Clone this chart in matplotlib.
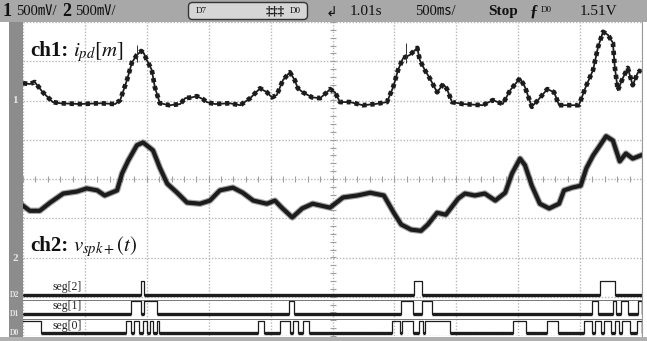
import matplotlib
matplotlib.use("Agg")
import matplotlib.pyplot as plt
import matplotlib.transforms as mtransforms
from matplotlib.patches import FancyBboxPatch
import numpy as np

plt.rcParams["font.family"] = ["Liberation Serif", "Noto Sans CJK JP", "DejaVu Sans"]
plt.rcParams["mathtext.fontset"] = "stix"

# screen units: x in time divisions (500 ms/div), y in vertical divisions (0 = centre)
ch1_t = [0.00, 0.11, 0.19, 0.32, 0.48, 0.60, 0.92, 1.24, 1.49, 1.57, 1.68, 1.76, 1.84, 1.91,
         1.95, 2.00, 2.08, 2.13, 2.21, 2.37, 2.54, 2.62, 2.73, 2.81, 2.91, 2.97, 3.10, 3.34,
         3.51, 3.67, 3.83, 3.94, 4.02, 4.10, 4.20, 4.31, 4.39, 4.44, 4.52, 4.67, 4.80, 4.91,
         4.96, 5.04, 5.12, 5.28, 5.49, 5.69, 5.88, 5.98, 6.06, 6.14, 6.25, 6.37, 6.41, 6.49,
         6.57, 6.69, 6.79, 6.85, 6.93, 7.11, 7.43, 7.59, 7.75, 7.87, 8.03, 8.11, 8.22, 8.32,
         8.47, 8.58, 8.66, 8.98, 9.09, 9.21, 9.29, 9.37, 9.45, 9.53, 9.56, 9.61, 9.69, 9.77,
         9.85, 9.93, 9.98]
ch1_v = [2.44, 2.42, 2.47, 2.21, 1.96, 1.93, 1.91, 1.93, 1.91, 2.01, 2.52, 2.97, 3.16, 3.26,
         3.21, 3.03, 2.78, 2.34, 1.93, 1.88, 1.91, 2.06, 2.08, 2.11, 2.03, 1.96, 1.91, 1.93,
         1.88, 2.06, 2.31, 2.21, 2.08, 2.14, 2.52, 2.72, 2.52, 2.31, 2.21, 2.08, 2.06, 2.21,
         2.29, 2.21, 1.96, 1.96, 1.88, 1.91, 1.96, 2.34, 2.78, 3.08, 3.16, 3.34, 3.03, 2.78,
         2.57, 2.21, 2.42, 2.29, 1.96, 1.91, 1.88, 2.01, 1.91, 2.26, 2.57, 2.34, 1.84, 2.01,
         2.29, 2.21, 1.88, 1.88, 2.34, 2.78, 3.36, 3.75, 3.67, 3.47, 2.86, 2.26, 2.57, 2.83,
         2.39, 2.70, 2.78]
spike_t = [1.84, 6.19]
spike_top = [3.42, 3.47]
spike_bot = [2.98, 2.95]

ch2_t = [0.00, 0.11, 0.27, 0.44, 0.65, 0.87, 1.03, 1.20, 1.32, 1.52, 1.60, 1.70, 1.84, 1.94,
         2.10, 2.21, 2.33, 2.49, 2.65, 2.86, 3.02, 3.18, 3.39, 3.55, 3.72, 3.94, 4.07, 4.18,
         4.35, 4.51, 4.68, 4.96, 5.17, 5.40, 5.61, 5.83, 5.99, 6.11, 6.27, 6.43, 6.54, 6.69,
         6.83, 7.03, 7.14, 7.30, 7.46, 7.63, 7.79, 7.90, 8.03, 8.11, 8.22, 8.35, 8.50, 8.66,
         8.74, 8.87, 9.01, 9.10, 9.21, 9.31, 9.42, 9.53, 9.64, 9.74, 9.85, 9.98]
ch2_v = [-0.68, -0.81, -0.81, -0.60, -0.37, -0.32, -0.24, -0.29, -0.42, -0.29, 0.14, 0.47,
         0.86, 0.93, 0.73, 0.29, -0.12, -0.35, -0.60, -0.63, -0.55, -0.29, -0.22, -0.35,
         -0.55, -0.63, -0.55, -0.73, -0.98, -0.75, -0.63, -0.73, -0.47, -0.42, -0.35, -0.42,
         -0.86, -1.16, -1.29, -1.32, -1.16, -0.86, -0.91, -0.50, -0.37, -0.42, -0.37, -0.55,
         -0.35, 0.14, 0.52, 0.35, -0.17, -0.63, -0.75, -0.63, -0.29, -0.22, -0.17, 0.27,
         0.60, 0.83, 1.09, 0.98, 0.45, 0.65, 0.52, 0.60]

# digital channels: intervals where the line is high
seg2_high = [(1.91, 1.95), (6.32, 6.45), (9.32, 9.56)]
seg1_high = [(1.74, 1.91), (1.95, 2.16), (4.30, 4.38), (6.11, 6.30), (6.45, 6.61),
             (9.19, 9.29), (9.53, 9.58), (9.66, 9.77), (9.93, 10.0)]
seg0_high = [(0.0, 0.29), (1.66, 1.74), (1.79, 1.87), (1.94, 2.00), (2.05, 2.10),
             (2.16, 2.20), (3.80, 3.89), (4.15, 4.31), (4.36, 4.44), (4.52, 4.62),
             (5.96, 6.09), (6.12, 6.30), (6.40, 6.46), (6.49, 6.90), (7.92, 8.13),
             (8.47, 8.64), (9.06, 9.19), (9.24, 9.34), (9.39, 9.50), (9.56, 9.63),
             (9.68, 9.81), (9.92, 10.0)]
seg_levels = {"seg[2]": (-2.95, -2.60), "seg[1]": (-3.44, -3.11), "seg[0]": (-3.93, -3.62)}

W, H = 647, 341
fig = plt.figure(figsize=(W / 100, H / 100), dpi=100)
fig.patch.set_facecolor("white")

# header bar
hd = fig.add_axes([0, 1 - 22 / H, 1, 22 / H])
hd.set_facecolor("#a8a8a8")
hd.set_xlim(0, W)
hd.set_ylim(22, 0)
hd.set_xticks([])
hd.set_yticks([])
for sp in hd.spines.values():
    sp.set_visible(False)
tc = "#111111"
hd.text(3, 11.5, "1", fontsize=13, fontweight="bold", color=tc, va="center")
hd.text(16, 11.5, "500㎷/", fontsize=10.5, color=tc, va="center")
hd.text(62, 11.5, "2", fontsize=13, fontweight="bold", color=tc, va="center")
hd.text(75, 11.5, "500㎷/", fontsize=10.5, color=tc, va="center")
hd.add_patch(FancyBboxPatch((190, 4), 116, 14, boxstyle="round,pad=1.5,rounding_size=4",
                            facecolor="#d6d6d6", edgecolor="#333333", lw=1))
hd.text(196, 11, "D7", fontsize=6.5, color=tc, va="center")
hd.text(266, 11.5, "‡‡‡", fontsize=9, color=tc, va="center", fontweight="bold")
hd.text(290, 11, "D0", fontsize=6.5, color=tc, va="center")
hd.text(326, 13, "↲", fontsize=10, color=tc, va="center", family=["DejaVu Sans"])
hd.text(350, 11.5, "1.01s", fontsize=11, color=tc, va="center")
hd.text(415, 11.5, "500㎳/", fontsize=10.5, color=tc, va="center")
hd.text(488, 11.5, "Stop", fontsize=11, fontweight="bold", color=tc, va="center")
hd.text(530, 11.5, "ƒ", fontsize=12, fontweight="bold", color=tc, va="center")
hd.text(541, 10, "D0", fontsize=6.5, color=tc, va="center")
hd.text(580, 11.5, "1.51V", fontsize=11, color=tc, va="center")

# left marker strip and bottom bar
strip = fig.add_axes([9 / W, 4 / H, 14 / W, 315 / H])
strip.set_facecolor("#8c8c8c")
strip.set_xticks([])
strip.set_yticks([])
for sp in strip.spines.values():
    sp.set_visible(False)
bot = fig.add_axes([0, 0, 1, 4 / H])
bot.set_facecolor("#b0b0b0")
bot.set_xticks([])
bot.set_yticks([])
for sp in bot.spines.values():
    sp.set_visible(False)

# main screen
ax = fig.add_axes([23 / W, 5 / H, 619 / W, 314 / H])
ax.set_facecolor("white")
ax.set_xlim(0, 10)
ax.set_ylim(-4, 4)
ax.set_xticks(np.arange(0, 11))
ax.set_yticks(np.arange(-4, 5))
ax.tick_params(length=0, labelbottom=False, labelleft=False)
ax.grid(True, color="#b8b8b8", lw=1.0, ls=(0, (1, 1.3)))
for sp in ax.spines.values():
    sp.set_visible(False)
ax.spines["right"].set_visible(True)
ax.spines["right"].set_color("#9a9a9a")

# centre-line minor ticks
mt = np.arange(0, 10.01, 0.2)
ax.plot(mt, np.zeros_like(mt), ls="none", marker="|", ms=4, color="#a0a0a0", mew=0.8)
mv = np.arange(-4, 4.01, 0.2)
ax.plot(np.full_like(mv, 5), mv, ls="none", marker="_", ms=4, color="#a0a0a0", mew=0.8)

trace = "#1c1c1c"
# channel 2: thick noisy band
ax.plot(ch2_t, ch2_v, color="#6a6a6a", lw=4.6, solid_joinstyle="round", alpha=0.6)
ax.plot(ch2_t, ch2_v, color=trace, lw=3.0, solid_joinstyle="round")

# channel 1: discrete samples, drawn as a dotted trace
ax.plot(ch1_t, ch1_v, color=trace, lw=1.3)
ax.plot(ch1_t, ch1_v, color=trace, lw=3.4, dashes=(0.9, 0.8))
ax.vlines(spike_t, spike_bot, spike_top, color="#333333", lw=0.7)

# digital lines
for sep in (-3.08, -3.57):
    ax.axhline(sep, color="#777777", lw=0.7)


def draw_digital(highs, lo, hi):
    xs, ys = [0.0], []
    lvl = hi if highs[0][0] <= 0.0 else lo
    ys.append(lvl)
    lows = []
    prev_end = 0.0
    for a, b in highs:
        if a > prev_end:
            lows.append((prev_end, a))
        xs += [a, a, b, b]
        ys += [lo, hi, hi, lo]
        prev_end = b
    if prev_end < 10:
        lows.append((prev_end, 10.0))
    xs.append(10.0)
    ys.append(lo if prev_end < 10 else hi)
    if highs[0][0] <= 0.0:
        xs, ys = xs[1:], ys[1:]
        ys[0] = hi
    ax.plot(xs, ys, color=trace, lw=0.9)
    ax.hlines([lo] * len(lows), [l[0] for l in lows], [l[1] for l in lows],
              color=trace, lw=2.4)


draw_digital(seg2_high, *seg_levels["seg[2]"])
draw_digital(seg1_high, *seg_levels["seg[1]"])
draw_digital(seg0_high, *seg_levels["seg[0]"])

for name, (lo, hi) in seg_levels.items():
    ax.text(0.47, lo + 0.12, name, fontsize=8.5, color="#222222", va="baseline")

ax.text(0.11, 3.13, "ch1:", fontsize=15, fontweight="bold", color="#111111", va="baseline")
ax.text(0.80, 3.13, r"$i_{pd}[m]$", fontsize=15, color="#111111", va="baseline")
ax.text(0.11, -1.83, "ch2:", fontsize=15, fontweight="bold", color="#111111", va="baseline")
ax.text(0.80, -1.83, r"$v_{spk+}(t)$", fontsize=15, color="#111111", va="baseline")

# strip markers
bl = mtransforms.blended_transform_factory(ax.transAxes, ax.transData)
mk = "#e6e6e6"
ax.text(-0.013, 2.0, "1", transform=bl, fontsize=8, fontweight="bold", color=mk,
        ha="center", va="center", clip_on=False)
ax.text(-0.013, -2.03, "2", transform=bl, fontsize=8, fontweight="bold", color=mk,
        ha="center", va="center", clip_on=False)
ax.text(-0.013, -2.95, "D2", transform=bl, fontsize=5.5, fontweight="bold", color=mk,
        ha="center", va="center", clip_on=False)
ax.text(-0.013, -3.44, "D1", transform=bl, fontsize=5.5, fontweight="bold", color=mk,
        ha="center", va="center", clip_on=False)
ax.text(-0.013, -3.93, "D0", transform=bl, fontsize=5.5, fontweight="bold", color=mk,
        ha="center", va="center", clip_on=False)

fig.savefig("out.png", dpi=100)
